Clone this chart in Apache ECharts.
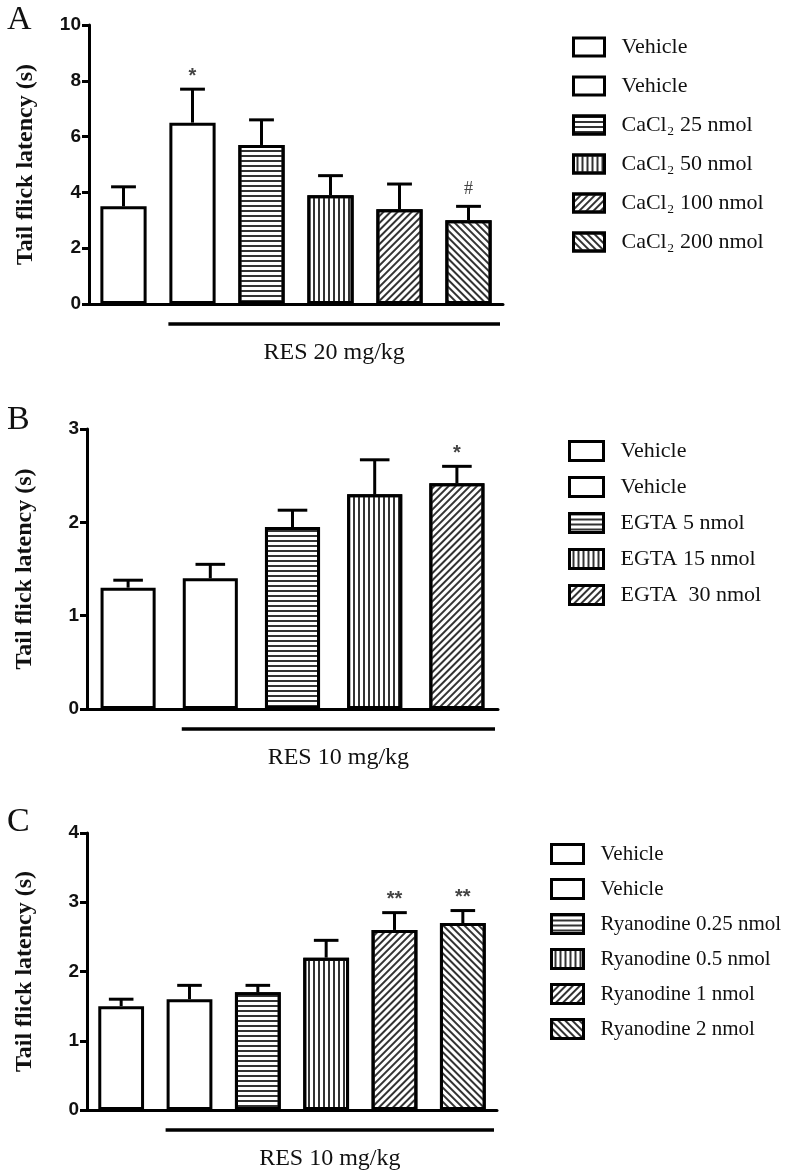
<!DOCTYPE html>
<html>
<head>
<meta charset="utf-8">
<script src="https://cdn.jsdelivr.net/npm/echarts@6/dist/echarts.min.js"></script>
<style>
html,body{margin:0;padding:0;background:#fff;}
#chart{width:789px;height:1174px;}
</style>
</head>
<body>
<div id="chart"></div>
<script>
// ---- Data ----
const catsA = ['Vehicle','Vehicle','CaCl₂ 25 nmol','CaCl₂ 50 nmol','CaCl₂ 100 nmol','CaCl₂ 200 nmol'];
const meanA = [3.5, 6.5, 5.7, 3.9, 3.4, 3.0];
const semA  = [0.7, 1.2, 0.9, 0.7, 0.9, 0.5];
const sigA  = ['', '*', '', '', '', '#'];
const ticksA = [0, 2, 4, 6, 8, 10];

const catsB = ['Vehicle','Vehicle','EGTA 5 nmol','EGTA 15 nmol','EGTA  30 nmol'];
const meanB = [1.3, 1.4, 1.95, 2.3, 2.42];
const semB  = [0.08, 0.15, 0.18, 0.37, 0.18];
const sigB  = ['', '', '', '', '*'];
const ticksB = [0, 1, 2, 3];

const catsC = ['Vehicle','Vehicle','Ryanodine 0.25 nmol','Ryanodine 0.5 nmol','Ryanodine 1 nmol','Ryanodine 2 nmol'];
const meanC = [1.5, 1.6, 1.7, 2.2, 2.6, 2.7];
const semC  = [0.1, 0.2, 0.1, 0.25, 0.25, 0.18];
const sigC  = ['', '', '', '', '**', '**'];
const ticksC = [0, 1, 2, 3, 4];

const groupA = 'RES 20 mg/kg';
const groupB = 'RES 10 mg/kg';
const groupC = 'RES 10 mg/kg';

// ---- Styles ----
function makeDecal(kind){
  if (kind === 'none') return null;
  const rot = {h: 0, v: Math.PI/2, d1: -Math.PI/4, d2: Math.PI/4}[kind];
  return {symbol:'rect', symbolSize:1, dashArrayX:[1,0], dashArrayY:[1.6,2.8], rotation: rot, color:'#333'};
}

const panels = [
  {cats:catsA, mean:meanA, sem:semA, sig:sigA, ticks:ticksA, group:groupA, letter:'A',
   patterns:['none','none','h','v','d1','d2'],
   grid:{left:89, top:25, width:414, height:279}, nameGap:51, legendFont:22,
   legend:{left:572, top:36, itemWidth:31, itemHeight:18, itemGap:17},
   letterPos:{left:2, top:-2}},
  {cats:catsB, mean:meanB, sem:semB, sig:sigB, ticks:ticksB, group:groupB, letter:'B',
   patterns:['none','none','h','v','d1'],
   grid:{left:87, top:429, width:411, height:280}, nameGap:50, legendFont:22,
   legend:{left:568, top:440, itemWidth:34, itemHeight:19, itemGap:14},
   letterPos:{left:2, top:398}},
  {cats:catsC, mean:meanC, sem:semC, sig:sigC, ticks:ticksC, group:groupC, letter:'C',
   patterns:['none','none','h','v','d1','d2'],
   grid:{left:87, top:833, width:410, height:277}, nameGap:50, legendFont:21,
   legend:{left:550, top:843, itemWidth:32, itemHeight:19, itemGap:13},
   letterPos:{left:2, top:800}}
];

const option = {
  animation:false,
  backgroundColor:'#fff',
  title:[], grid:[], xAxis:[], yAxis:[], legend:[], series:[]
};

panels.forEach((p, k) => {
  option.title.push({text:p.letter, left:p.letterPos.left, top:p.letterPos.top,
    textStyle:{fontFamily:'Liberation Serif', fontWeight:'normal', fontSize:34, color:'#111'}});
  option.grid.push(Object.assign({containLabel:false}, p.grid));
  option.xAxis.push({type:'category', gridIndex:k, data:p.cats.map((c,i)=>c+'|'+i),
    axisLine:{lineStyle:{color:'#000', width:3}}, axisTick:{show:false}, axisLabel:{show:false}});
  const step = p.ticks[1]-p.ticks[0];
  option.yAxis.push({type:'value', gridIndex:k, min:p.ticks[0], max:p.ticks[p.ticks.length-1], interval:step,
    name:'Tail flick latency (s)', nameLocation:'middle', nameGap:p.nameGap,
    nameTextStyle:{fontFamily:'Liberation Serif', fontWeight:'bold', fontSize:24, color:'#111'},
    axisLine:{show:true, lineStyle:{color:'#000', width:3}},
    axisTick:{show:true, length:7, lineStyle:{color:'#000', width:3}},
    axisLabel:{margin:8, fontFamily:'Liberation Sans', fontWeight:'bold', fontSize:19, color:'#111'},
    splitLine:{show:false}});
  const names = p.cats.map((c,i)=>c+'|'+i);
  option.legend.push(Object.assign({
    data:names, orient:'vertical', padding:0, icon:'rect', selectedMode:false,
    itemStyle:{borderColor:'#000', borderWidth:3},
    textStyle:{fontFamily:'Liberation Serif', fontSize:p.legendFont, color:'#111', padding:[0,0,0,12]},
    formatter:(n)=>n.split('|')[0]
  }, p.legend));
  p.cats.forEach((c, i) => {
    const d = makeDecal(p.patterns[i]);
    const style = {color:'#fff', borderColor:'#000', borderWidth:3};
    if (d) style.decal = d;
    option.series.push({type:'bar', name:names[i], xAxisIndex:k, yAxisIndex:k,
      barWidth:'67%', barGap:'-100%',
      data:p.mean.map((m,j)=> j===i ? m : '-'),
      itemStyle:style, z:2});
  });
  // error bars + significance
  const sig = p.sig;
  option.series.push({type:'custom', xAxisIndex:k, yAxisIndex:k, clip:false, z:3,
    data:p.mean.map((m,j)=>[j, m, m+p.sem[j]]),
    renderItem:(params, api)=>{
      const x = api.value(0);
      const p0 = api.coord([x, api.value(1)]);
      const p1 = api.coord([x, api.value(2)]);
      const band = api.size([1,0])[0];
      const half = band*0.18;
      const children = [
        {type:'line', shape:{x1:p0[0], y1:p0[1], x2:p1[0], y2:p1[1]}, style:{stroke:'#000', lineWidth:3}},
        {type:'line', shape:{x1:p1[0]-half, y1:p1[1], x2:p1[0]+half, y2:p1[1]}, style:{stroke:'#000', lineWidth:3}}
      ];
      const s = sig[params.dataIndex];
      if (s) children.push({type:'text', style:{text:s, x:p1[0], y:p1[1]-(s==='#'?8:3), textAlign:'center', textVerticalAlign:'bottom',
        fontFamily: s==='#' ? 'Liberation Serif' : 'Liberation Sans', fontWeight: s==='#' ? 'normal':'bold', fontSize: s==='#'?18:20, fill:'#444'}});
      return {type:'group', children};
    }});
  // group bracket line + label
  const n = p.cats.length;
  const label = p.group;
  option.series.push({type:'custom', xAxisIndex:k, yAxisIndex:k, clip:false, z:3,
    data:[[1, 0]],
    renderItem:(params, api)=>{
      const band = api.size([1,0])[0];
      const a = api.coord([1, 0]);
      const b = api.coord([n-1, 0]);
      const x1 = a[0] - band*0.335 - 1;
      const x2 = b[0] + band*0.5 - 3;
      const y = a[1] + 20;
      return {type:'group', children:[
        {type:'line', shape:{x1, y1:y, x2, y2:y}, style:{stroke:'#000', lineWidth:3.5}},
        {type:'text', style:{text:label, x:(x1+x2)/2, y:y+29, textAlign:'center', textVerticalAlign:'middle',
          fontFamily:'Liberation Serif', fontSize:24, fill:'#111'}}
      ]};
    }});
});

const chart = echarts.init(document.getElementById('chart'), null, {renderer:'canvas'});
chart.setOption(option);
</script>
</body>
</html>
